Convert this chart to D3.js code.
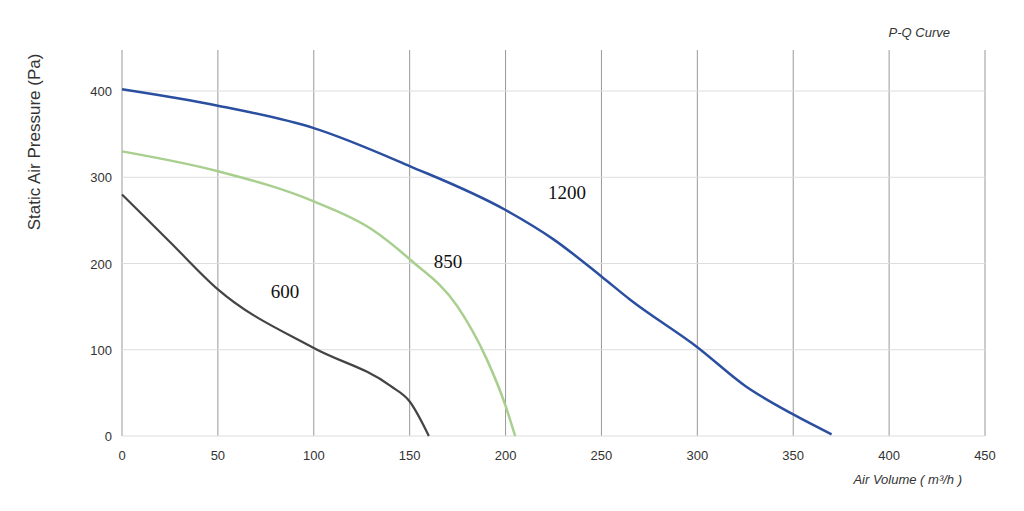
<!DOCTYPE html>
<html><head><meta charset="utf-8">
<script src="https://cdn.jsdelivr.net/npm/d3@7"></script>
<style>body{margin:0;background:#fff;}text{font-family:Arial,"Liberation Sans",sans-serif;}</style>
</head><body>
<svg id="chart" width="1024" height="511"></svg>
<script>
var xTicks=[0,50,100,150,200,250,300,350,400,450];
var yTicks=[0,100,200,300,400];
var q1200=[0,50,100,150,200,225,250,265,300,325,350,370];
var p1200=[402,383,357,313,262,228,185,158,103,58,25,2];
var q850=[0,50,100,130,150,175,190,200,205];
var p850=[330,307,272,240,205,150,90,35,0];
var q600=[0,25,50,100,140,150,160];
var p600=[280,225,170,102,58,40,0];

var svg=d3.select("#chart");
var x=d3.scaleLinear().domain([0,450]).range([122,985]);
var y=d3.scaleLinear().domain([0,400]).range([436,91]);

// grid
svg.selectAll("line.v").data(xTicks).enter().append("line")
  .attr("x1",d=>x(d)).attr("x2",d=>x(d)).attr("y1",50).attr("y2",436)
  .attr("stroke","#999").attr("stroke-width",1);
svg.selectAll("line.h").data(yTicks).enter().append("line")
  .attr("x1",122).attr("x2",985).attr("y1",d=>y(d)).attr("y2",d=>y(d))
  .attr("stroke","#ddd").attr("stroke-width",1);

// axes text
svg.selectAll("text.xt").data(xTicks).enter().append("text")
  .attr("x",d=>x(d)).attr("y",460).attr("text-anchor","middle")
  .attr("font-size",13).attr("fill","#333").text(d=>d);
svg.selectAll("text.yt").data(yTicks).enter().append("text")
  .attr("x",112).attr("y",d=>y(d)+5).attr("text-anchor","end")
  .attr("font-size",13).attr("fill","#333").text(d=>d);

svg.append("text").attr("transform","translate(40,142) rotate(-90)")
  .attr("text-anchor","middle").attr("font-size",17).attr("fill","#333")
  .text("Static Air Pressure  (Pa)");
svg.append("text").attr("x",962).attr("y",484).attr("text-anchor","end")
  .attr("font-size",13).attr("font-style","italic").attr("fill","#333")
  .text("Air Volume ( m³/h )");
svg.append("text").attr("x",950).attr("y",37).attr("text-anchor","end")
  .attr("font-size",13).attr("font-style","italic").attr("fill","#333")
  .text("P-Q Curve");

var line=d3.line().x(d=>x(d[0])).y(d=>y(d[1])).curve(d3.curveMonotoneX);
function series(q,p,color,w){
  svg.append("path").datum(d3.zip(q,p)).attr("d",line)
    .attr("fill","none").attr("stroke",color).attr("stroke-width",w);
}
series(q850,p850,"#a8cf8e",2.5);
series(q600,p600,"#444",2.2);
series(q1200,p1200,"#2b4fa0",2.5);

var labels=[["1200",232,275],["850",170,195],["600",85,160]];
svg.selectAll("text.lab").data(labels).enter().append("text")
  .attr("x",d=>x(d[1])).attr("y",d=>y(d[2])).attr("text-anchor","middle")
  .style("font-family","'Liberation Serif','DejaVu Serif',serif").attr("font-size",19).attr("fill","#111")
  .text(d=>d[0]);
</script>
</body></html>
